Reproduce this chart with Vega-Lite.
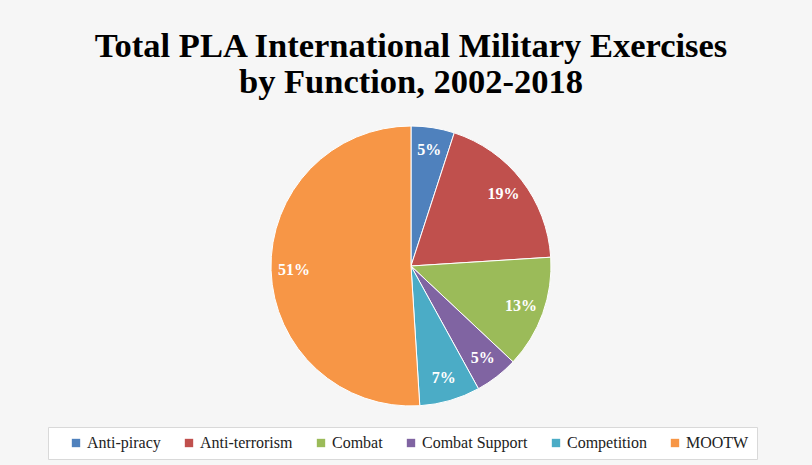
{
  "$schema": "https://vega.github.io/schema/vega-lite/v6.json",
  "width": 802,
  "height": 290,
  "padding": {"left": 10, "top": 28, "right": 0, "bottom": 5},
  "background": "#f6f6f6",
  "title": {
    "text": ["Total PLA International Military Exercises", "by Function, 2002-2018"],
    "font": "Liberation Serif",
    "fontSize": 34.5,
    "fontWeight": "bold",
    "color": "#000000",
    "lineHeight": 36,
    "anchor": "middle",
    "offset": 21
  },
  "data": {
    "values": [
      {"function": "Anti-piracy", "share": 5, "label": "5%", "rank": 1},
      {"function": "Anti-terrorism", "share": 19, "label": "19%", "rank": 2},
      {"function": "Combat", "share": 13, "label": "13%", "rank": 3},
      {"function": "Combat Support", "share": 5, "label": "5%", "rank": 4},
      {"function": "Competition", "share": 7, "label": "7%", "rank": 5},
      {"function": "MOOTW", "share": 51, "label": "51%", "rank": 6}
    ]
  },
  "encoding": {
    "theta": {"field": "share", "type": "quantitative", "stack": true},
    "order": {"field": "rank", "type": "quantitative"},
    "color": {
      "field": "function",
      "type": "nominal",
      "sort": ["Anti-piracy", "Anti-terrorism", "Combat", "Combat Support", "Competition", "MOOTW"],
      "scale": {
        "domain": ["Anti-piracy", "Anti-terrorism", "Combat", "Combat Support", "Competition", "MOOTW"],
        "range": ["#4F81BD", "#C0504D", "#9BBB59", "#8064A2", "#4BACC6", "#F79646"]
      },
      "legend": {
        "title": " ",
        "titleOrient": "left",
        "titlePadding": 12,
        "titleFontSize": 4,
        "orient": "none",
        "legendX": 38,
        "legendY": 306,
        "direction": "horizontal",
        "symbolType": "square",
        "symbolSize": 70,
        "symbolStrokeWidth": 0,
        "labelFont": "Liberation Serif",
        "labelFontSize": 16,
        "labelColor": "#222222",
        "labelLimit": 200,
        "labelOffset": 3,
        "columnPadding": 20,
        "symbolOffset": 0,
        "padding": 8,
        "fillColor": "#ffffff",
        "strokeColor": "#d9d9d9"
      }
    }
  },
  "layer": [
    {
      "mark": {"type": "arc", "outerRadius": 140, "stroke": "#ffffff", "strokeWidth": 1}
    },
    {
      "mark": {
        "type": "text",
        "radius": 117,
        "font": "Liberation Serif",
        "fontSize": 16,
        "fontWeight": "bold",
        "color": "#ffffff"
      },
      "encoding": {
        "text": {"field": "label", "type": "nominal"},
        "color": {"value": "#ffffff"}
      }
    }
  ],
  "config": {
    "view": {"stroke": null}
  }
}
